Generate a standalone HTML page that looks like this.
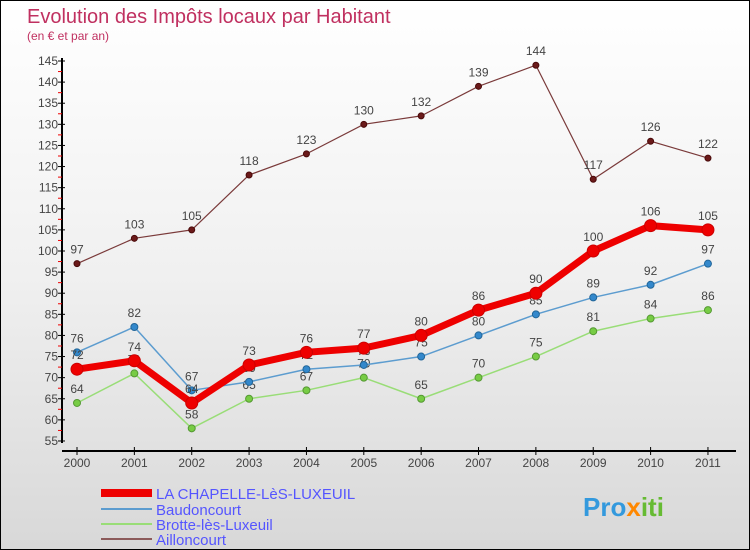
<!DOCTYPE html>
<html><head><meta charset="utf-8"><style>
body{margin:0}
#wrap{position:relative;width:748px;height:548px;border:1px solid #000;background:linear-gradient(#fff 0%,#f0f0f0 50%,#d8d8d8 100%);font-family:"Liberation Sans",sans-serif;overflow:hidden}
</style></head><body>
<div id="wrap">
<svg id="svg" width="748" height="548" xmlns="http://www.w3.org/2000/svg">
<text x="26" y="22" font-size="20" fill="#c03060">Evolution des Impôts locaux par Habitant</text>
<text x="26" y="39" font-size="12" fill="#c03060">(en € et par an)</text>
<g id="axes"></g><g id="series"></g>
<g>
<line x1="100" y1="492" x2="151" y2="492" stroke="#e00" stroke-width="8"/>
<text x="155" y="498" font-size="15" fill="#5555ff">LA CHAPELLE-LèS-LUXEUIL</text>
<line x1="100" y1="508" x2="151" y2="508" stroke="#5c9ccf" stroke-width="2"/>
<text x="155" y="514" font-size="15" fill="#5555ff">Baudoncourt</text>
<line x1="100" y1="523" x2="151" y2="523" stroke="#99dd77" stroke-width="2"/>
<text x="155" y="529" font-size="15" fill="#5555ff">Brotte-lès-Luxeuil</text>
<line x1="100" y1="538" x2="151" y2="538" stroke="#8b5a5a" stroke-width="2"/>
<text x="155" y="544" font-size="15" fill="#5555ff">Ailloncourt</text>
</g>
<text x="582" y="515" font-size="26" font-weight="bold" fill="#3399dd">Pro<tspan fill="#ff8800">x</tspan><tspan fill="#66bb33">iti</tspan></text>
</svg>
</div>
<script>
const years=["2000","2001","2002","2003","2004","2005","2006","2007","2008","2009","2010","2011"];
const chapelle=[72,74,64,73,76,77,80,86,90,100,106,105];
const baudoncourt=[76,82,67,69,72,73,75,80,85,89,92,97];
const brotte=[64,71,58,65,67,70,65,70,75,81,84,86];
const ailloncourt=[97,103,105,118,123,130,132,139,144,117,126,122];
const yTicks=[55,60,65,70,75,80,85,90,95,100,105,110,115,120,125,130,135,140,145];
const NS="http://www.w3.org/2000/svg";
const X=i=>76+i*57.36, Y=v=>60+(145-v)*4.222;
function mk(tag,attrs,parent,txt){const e=document.createElementNS(NS,tag);for(const k in attrs)e.setAttribute(k,attrs[k]);if(txt!==undefined)e.textContent=txt;parent.appendChild(e);return e;}
const ax=document.getElementById('axes');
let e=mk('line',{x1:61,y1:57,x2:61,y2:442,stroke:'#000','stroke-width':2},ax);


e=mk('line',{x1:61,y1:450,x2:735,y2:450,stroke:'#000','stroke-width':2},ax);


yTicks.forEach(v=>{
  mk('line',{x1:57,y1:Y(v),x2:64,y2:Y(v),stroke:'#000'},ax);
  if(v<145)mk('line',{x1:57,y1:Y(v+2.5),x2:61,y2:Y(v+2.5),stroke:'#e00'},ax);
  e=mk('text',{x:57,y:Y(v)+4,'font-size':12,'text-anchor':'end',fill:'#444'},ax,String(v));
  
  
});
years.forEach((y,i)=>{
  mk('line',{x1:X(i),y1:446,x2:X(i),y2:454,stroke:'#000'},ax);
  e=mk('text',{x:X(i),y:466,'font-size':12,'text-anchor':'middle',fill:'#444'},ax,y);
  
  
});
const sg=document.getElementById('series');
function series(data,name,color,w,r,dot,dotStroke){
  const g=mk('g',{},sg);
  
  
  mk('polyline',{points:data.map((v,i)=>X(i)+','+Y(v)).join(' '),fill:'none',stroke:color,'stroke-width':w,'stroke-linejoin':'round'},g);
  data.forEach((v,i)=>{
    const c=mk('circle',{cx:X(i),cy:Y(v),r:r,fill:dot,stroke:dotStroke,'stroke-width':1},g);
    
    
    const t=mk('text',{x:X(i),y:Y(v)-10,'font-size':12,'text-anchor':'middle',fill:'#444'},g,String(v));
    
    
  });
}
series(ailloncourt,'ailloncourt','#7a3a3a',1.2,3,'#6b1a1a','#4a0a0a');
series(brotte,'brotte','#99dd77',1.5,3.5,'#77cc44','#559933');
series(baudoncourt,'baudoncourt','#5c9ccf',1.5,3.5,'#3388cc','#226699');
series(chapelle,'chapelle','#ee0000',7,6,'#ee0000','#cc0000');
</script>
</body></html>
